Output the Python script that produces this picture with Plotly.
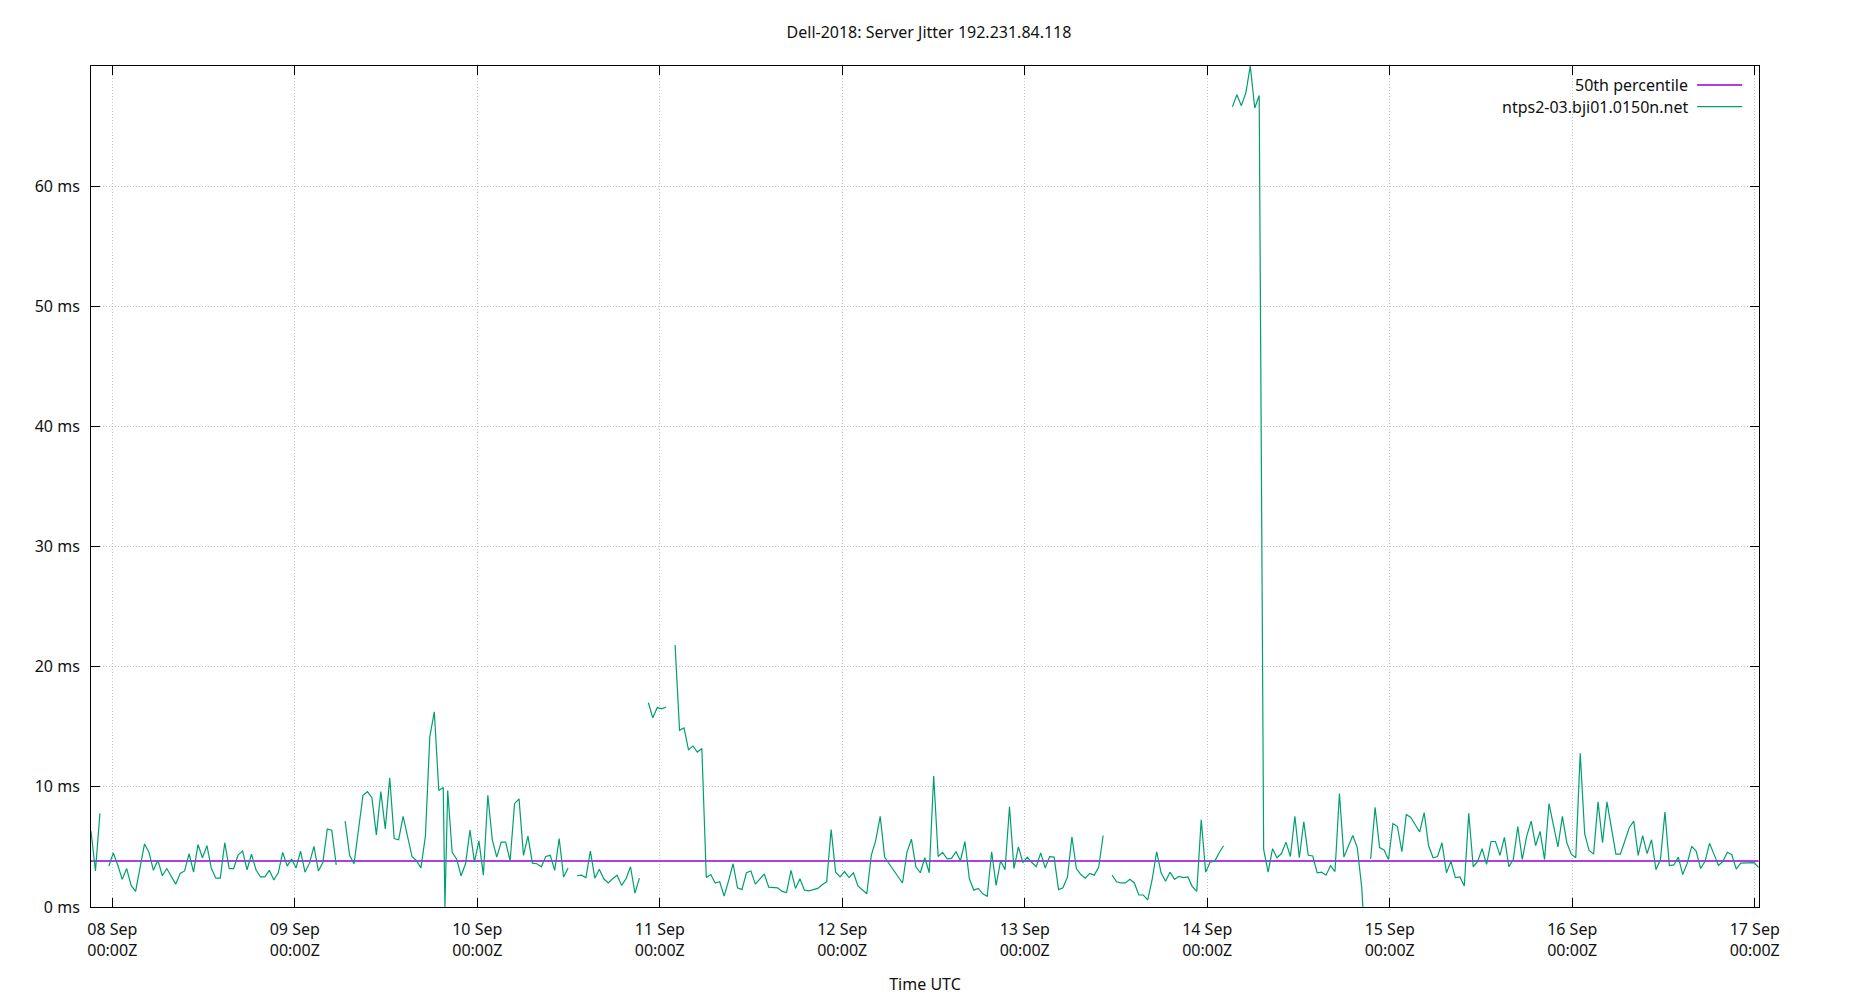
import pandas as pd
import plotly.graph_objects as go

# sampled jitter (ms), one value per poll, None = no data for that poll
start_time = "2018-09-07 21:12"
poll_interval = "2111s"
jitter_ms = [
    6.3, 3.0, 7.8, None,
    3.4, 4.5, 3.5, 2.3, 3.2, 1.8, 1.3, 3.3, 5.25, 4.55,
    3.05, 3.9, 2.6, 3.2, 2.55, 1.9, 2.8, 3.0, 4.45, 2.9,
    5.2, 4.1, 5.1, 3.2, 2.4, 2.4, 5.35, 3.2, 3.2, 4.35,
    4.65, 3.1, 4.4, 3.1, 2.5, 2.5, 3.05, 2.25, 2.85, 4.55,
    3.4, 4.0, 3.25, 4.65, 2.9, 3.65, 5.05, 3.0, 3.7, 6.5,
    6.4, 3.5,
    None,
    7.15, 4.3, 3.6, 6.6, 9.3, 9.6, 9.1, 6.0, 9.6, 6.5,
    10.75, 5.7, 5.6, 7.55, 5.75, 4.2, 3.85, 3.25, 5.9, 14.2,
    16.25, 9.7, 9.95, 9.7, 4.55, 4.0, 2.6, 3.6, 6.4, 3.75,
    5.5, 2.65, 9.3, 5.6, 4.15, 5.4, 5.4, 3.85, 8.6, 9.0,
    4.3, 5.9, 3.65, 3.6, 3.35, 4.2, 4.3, 3.05, 5.7, 2.5,
    3.25,
    None,
    2.6, 2.65, 2.45, 4.65, 2.4, 3.15, 2.35, 2.0, 2.35, 2.65,
    1.8, 2.35, 3.35, 1.15, 2.4,
    None,
    17.0, 15.75, 16.6, 16.5, 16.65,
    None,
    21.8, 14.7, 14.9, 13.1, 13.4, 12.9, 13.2, 2.45, 2.7, 2.0,
    2.1, 0.9, 2.2, 3.6, 1.6, 1.45, 2.85, 3.0, 1.9, 2.3,
    2.75, 1.65, 1.65, 1.6, 1.3, 1.2, 3.05, 1.55, 2.35, 1.4,
    1.35, 1.45, 1.55, 1.85, 2.1, 6.45, 2.9, 2.5, 2.95, 2.45,
    2.85, 1.75, 1.4, 1.1, 4.3, 5.55, 7.55, 4.15, 3.6, 3.1,
    2.55, 2.0, 4.55, 5.65, 3.35, 2.85, 4.1, 2.85, 10.9, 4.2,
    4.55, 4.0, 4.05, 4.6, 3.85, 5.45, 2.35, 1.4, 1.55, 1.1,
    0.9, 4.6, 1.8, 3.85, 3.1, 8.35, 3.2, 5.0, 3.7, 4.15,
    3.7, 3.35, 4.5, 3.25, 4.2, 4.15, 1.45, 1.6, 2.5, 5.85,
    3.2, 2.7, 2.4, 2.8, 2.65, 3.3, 5.95,
    None,
    2.65, 2.1, 2.0, 2.0, 2.3, 2.0, 1.0, 1.0, 0.6, 2.3,
    4.6, 2.85, 2.15, 2.9, 2.3, 2.55, 2.45, 2.5, 1.7, 1.3,
    7.25, 2.9, 3.75, 3.8, 4.5, 5.1,
    None,
    66.6, 67.6, 66.7, 67.75, 70.0, 66.5, 67.55,
    4.8, 2.9, 4.85, 4.1, 4.45, 5.4, 4.2, 7.55, 4.1, 7.1,
    4.3, 4.25, 2.85, 2.9, 2.65, 3.45, 2.95, 9.45, 4.15, 5.05,
    5.95, 4.95, 1.6,
    None,
    4.0, 8.3, 4.95, 4.75, 3.95, 6.95, 6.7, 4.6, 7.7,
    7.45, 6.85, 6.25, 7.85, 5.1, 4.1, 4.2, 5.35, 2.85, 3.8,
    2.45, 2.5, 1.75, 7.8, 3.35, 3.8, 4.85, 3.55, 5.45, 5.45,
    4.3, 5.8, 3.35, 3.95, 6.7, 3.95, 5.9, 7.15, 5.1, 6.3,
    3.95, 8.6, 6.9, 5.0, 7.55, 5.35, 4.4, 4.1, 12.8, 6.1,
    4.7, 4.4, 8.75, 5.35, 8.75, 6.45, 4.4, 4.4, 5.6, 6.6,
    7.15, 4.3, 5.95, 4.45, 5.6, 3.1, 3.95, 7.9, 3.45, 3.5,
    4.15, 2.7, 3.65, 5.05, 4.65, 3.2, 3.8, 5.3, 4.4, 3.45,
    3.8, 4.55, 4.35, 3.15, 3.65, 3.65, 3.7, 3.7, 3.3,
]

# two odd polls that dropped to zero between the regular ones
dip_times = ["2018-09-09 19:45", "2018-09-14 20:28"]
dip_values = [0.0, 0.0]

median_ms = 3.83
day_ticks = pd.date_range("2018-09-08", "2018-09-17", freq="D")
y_ticks = [0, 10, 20, 30, 40, 50, 60]
x_range = ["2018-09-07 21:12", "2018-09-17 00:34"]

server_name = "ntps2-03.bji01.0150n.net"
title = "Dell-2018: Server Jitter 192.231.84.118"

times = pd.date_range(start_time, periods=len(jitter_ms), freq=poll_interval)
df = pd.DataFrame({"t": times, "v": jitter_ms})
dips = pd.DataFrame({"t": pd.to_datetime(dip_times), "v": dip_values})
df = pd.concat([df, dips]).sort_values("t")

FONT = "Noto Sans"
GREEN = "#009e73"
PURPLE = "#9400d3"
TXT = "#111"

fig = go.Figure()
fig.add_trace(go.Scatter(x=[times[0], times[-1]], y=[median_ms, median_ms],
                         mode="lines", line=dict(color=PURPLE, width=1.5),
                         name="50th percentile", showlegend=False))
fig.add_trace(go.Scatter(x=df["t"], y=df["v"], mode="lines",
                         line=dict(color=GREEN, width=1.2),
                         connectgaps=False, name=server_name, showlegend=False))

# gnuplot-style key: text on the left, line sample on the right
key_rows = [("50th percentile", PURPLE, 0.9774), (server_name, GREEN, 0.9516)]
for label, col, yy in key_rows:
    fig.add_annotation(x=0.9589, y=yy, xref="paper", yref="paper", text=label,
                       showarrow=False, xanchor="right", yanchor="middle",
                       font=dict(family=FONT, size=16, color=TXT))
    fig.add_shape(type="line", xref="paper", yref="paper", x0=0.9629, x1=0.9899,
                  y0=yy, y1=yy, line=dict(color=col, width=1.3))

# page body adds 8px, so the figure is 8px smaller than the window
fig.update_layout(
    width=1842, height=992,
    paper_bgcolor="white", plot_bgcolor="white",
    margin=dict(l=83, r=91, t=58, b=93),
    title=dict(text=title, x=0.5, xanchor="center", y=0.975, yanchor="middle",
               yref="container", font=dict(family=FONT, size=16, color=TXT)),
    font=dict(family=FONT, size=16, color=TXT),
    showlegend=False,
)
fig.update_xaxes(
    range=x_range, tickvals=day_ticks,
    ticktext=[d.strftime("%d %b") + "<br>00:00Z" for d in day_ticks],
    ticks="inside", ticklen=9, tickcolor="black",
    showline=True, linecolor="black", linewidth=1, mirror="ticks",
    showgrid=True, gridcolor="#c4c4c4", griddash="1px,2px", gridwidth=1,
    zeroline=False, ticklabelstandoff=8, automargin=False,
    title=dict(text="Time UTC", standoff=18, font=dict(family=FONT, size=16)),
)
fig.update_yaxes(
    range=[0, 70.0], tickvals=y_ticks, ticktext=[f"{v} ms" for v in y_ticks],
    ticks="inside", ticklen=9, tickcolor="black",
    showline=True, linecolor="black", linewidth=1, mirror="ticks",
    showgrid=True, gridcolor="#c4c4c4", griddash="1px,2px", gridwidth=1,
    zeroline=False, ticklabelstandoff=7, automargin=False,
)

fig.write_html("out.html")
